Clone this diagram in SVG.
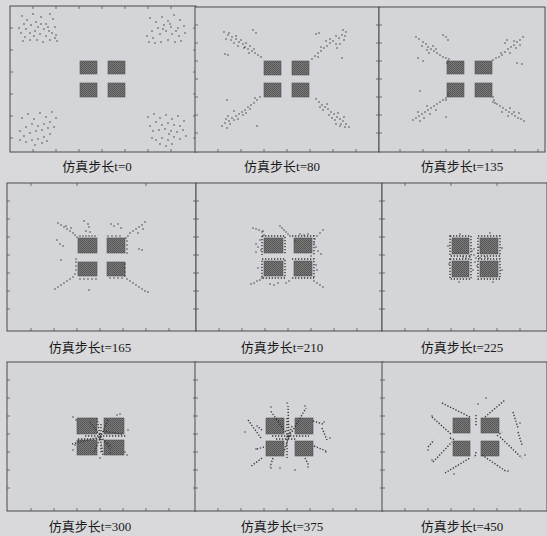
<svg xmlns="http://www.w3.org/2000/svg" width="547" height="536" viewBox="0 0 547 536">
<defs>
<pattern id="chk" width="2" height="2" patternUnits="userSpaceOnUse">
<rect width="2" height="2" fill="#7a7a7a"/>
<rect width="1" height="1" fill="#525252"/>
<rect x="1" y="1" width="1" height="1" fill="#5c5c5c"/>
</pattern>
</defs>
<style>
.frame{fill:#d4d5d9;stroke:#4a4a4a;stroke-width:1}
.sq{fill:url(#chk);stroke:#555;stroke-width:0.6}
.dots{fill:none;stroke:#3a3a3a;stroke-width:1.5;stroke-linecap:round}
.dl{fill:none;stroke:#3a3a3a;stroke-width:1.4;stroke-dasharray:1.3 1.7}
.tick{fill:none;stroke:#555;stroke-width:0.8}
.cap{font-family:"Liberation Serif","Noto Sans CJK SC",serif;font-size:13px;fill:#1a1a1a;text-anchor:middle}
</style>
<rect width="547" height="536" fill="#d9d9dc"/>

<g id="panel-t0">
<rect class="frame" x="10" y="6" width="186" height="146"/>
<path class="tick" d="M10 28h3M10 50h3M10 72h3M10 94h3M10 116h3M10 138h3M196 28h-3M196 50h-3M196 72h-3M196 94h-3M196 116h-3M196 138h-3M33 152v-3M56 152v-3M79 152v-3M102 152v-3M125 152v-3M148 152v-3M171 152v-3M33 6v3M56 6v3M79 6v3M102 6v3M125 6v3M148 6v3M171 6v3"/>
<rect class="sq" x="80" y="61" width="17" height="13"/>
<rect class="sq" x="108" y="61" width="17" height="13"/>
<rect class="sq" x="80" y="83" width="17" height="14"/>
<rect class="sq" x="108" y="83" width="17" height="14"/>
<path class="dots" d="M22 16h0M27 20h0M33 14h0M36 22h0M41 17h0M46 24h0M50 14h0M53 19h0M55 27h0M49 31h0M44 29h0M38 27h0M31 25h0M26 29h0M21 33h0M25 37h0M30 33h0M35 31h0M40 34h0M46 36h0M52 33h0M55 38h0M57 41h0M50 40h0M43 42h0M37 40h0M30 40h0M23 41h0M19 28h0M34 36h0M48 27h0M56 35h0M24 24h0M41 24h0
M150 18h0M156 22h0M162 17h0M168 21h0M174 15h0M180 20h0M184 26h0M178 28h0M171 27h0M164 25h0M158 28h0M152 31h0M147 36h0M153 38h0M160 34h0M166 31h0M172 34h0M179 36h0M185 33h0M181 41h0M175 42h0M168 40h0M161 42h0M155 43h0M149 42h0M163 29h0M170 24h0M176 31h0
M22 118h0M28 114h0M34 119h0M40 113h0M46 117h0M52 112h0M56 118h0M50 122h0M44 124h0M38 126h0M32 124h0M26 127h0M20 131h0M24 136h0M30 133h0M36 131h0M42 130h0M48 128h0M54 127h0M50 134h0M44 137h0M38 139h0M32 140h0M26 142h0M20 140h0M35 145h0M42 143h0M47 141h0
M148 117h0M154 114h0M160 118h0M166 115h0M172 119h0M178 116h0M184 121h0M180 126h0M174 125h0M168 123h0M162 125h0M156 122h0M150 126h0M153 131h0M159 130h0M165 129h0M171 131h0M177 132h0M183 130h0M186 136h0M180 139h0M174 137h0M168 140h0M162 138h0M156 140h0M160 144h0M166 146h0M172 144h0M152 138h0M169 134h0"/>
<text class="cap" x="97" y="171">仿真步长t=0</text>
</g>

<g id="panel-t80">
<rect class="frame" x="195" y="7" width="184" height="145"/>
<path class="tick" d="M195 25h3M195 43h3M195 61h3M195 79h3M195 97h3M195 115h3M195 133h3M379 25h-3M379 43h-3M379 61h-3M379 79h-3M379 97h-3M379 115h-3M379 133h-3M218 152v-3M241 152v-3M264 152v-3M287 152v-3M310 152v-3M333 152v-3M356 152v-3"/>
<rect class="sq" x="264" y="61" width="17" height="14"/>
<rect class="sq" x="292" y="61" width="17" height="14"/>
<rect class="sq" x="264" y="83" width="17" height="14"/>
<rect class="sq" x="292" y="83" width="17" height="14"/>
<path class="dots" d="M224 32h0M228 35h0M232 37h0M231 40h0M236 39h0M239 42h0M243 44h0M238 46h0M245 47h0M248 49h0M252 51h0M255 53h0M258 55h0M261 57h0M250 46h0M241 40h0M234 43h0M226 39h0M229 33h0M236 36h0M246 43h0M254 49h0M225 54h0M228 55h0M253 30h0M256 33h0M244 48h0M249 53h0
M346 32h0M342 35h0M339 38h0M336 36h0M333 41h0M330 43h0M327 46h0M324 48h0M321 51h0M318 53h0M315 56h0M312 59h0M344 40h0M340 44h0M336 44h0M330 39h0M326 41h0M321 47h0M345 36h0M318 57h0M337 48h0M343 30h0M316 34h0M319 33h0M342 58h0
M222 126h0M225 123h0M229 121h0M232 118h0M236 116h0M239 114h0M242 112h0M245 110h0M248 107h0M251 105h0M254 103h0M257 100h0M260 97h0M226 119h0M230 124h0M234 120h0M238 119h0M243 115h0M246 113h0M250 109h0M228 116h0M234 111h0M227 128h0M255 98h0M257 126h0M227 100h0
M316 99h0M319 102h0M322 105h0M325 107h0M328 109h0M331 112h0M334 114h0M337 117h0M340 119h0M343 121h0M346 124h0M349 127h0M323 110h0M329 115h0M335 120h0M341 124h0M338 113h0M344 117h0M327 104h0M332 118h0M336 124h0M345 127h0M320 107h0M340 126h0"/>
<text class="cap" x="282" y="171">仿真步长t=80</text>
</g>

<g id="panel-t135">
<rect class="frame" x="379" y="7" width="166" height="145"/>
<path class="tick" d="M379 25h3M379 43h3M379 61h3M379 79h3M379 97h3M379 115h3M379 133h3M400 152v-3M423 152v-3M446 152v-3M469 152v-3M492 152v-3M515 152v-3M538 152v-3"/>
<rect class="sq" x="447" y="61" width="17" height="13"/>
<rect class="sq" x="475" y="61" width="17" height="13"/>
<rect class="sq" x="447" y="83" width="17" height="14"/>
<rect class="sq" x="475" y="83" width="17" height="14"/>
<path class="dots" d="M416 37h0M419 39h0M423 42h0M426 44h0M428 47h0M431 49h0M434 51h0M437 53h0M440 55h0M443 57h0M446 58h0M449 59h0M422 46h0M427 50h0M433 46h0M418 58h0M423 61h0M443 35h0M446 37h0M448 40h0M429 53h0M436 49h0M448 61h0M447 63h0
M523 37h0M520 40h0M517 42h0M514 45h0M511 47h0M508 49h0M505 52h0M502 55h0M499 57h0M496 58h0M493 60h0M516 48h0M510 53h0M520 45h0M514 41h0M505 43h0M507 40h0M517 63h0M522 64h0M501 53h0
M413 120h0M416 118h0M419 116h0M422 114h0M425 112h0M428 110h0M431 108h0M434 106h0M437 104h0M440 102h0M443 100h0M446 98h0M448 96h0M418 112h0M424 118h0M430 114h0M436 110h0M420 121h0M427 106h0M420 91h0M446 117h0M448 94h0M446 100h0
M493 97h0M494 100h0M495 103h0M497 104h0M500 106h0M503 108h0M506 110h0M509 112h0M512 114h0M515 116h0M518 118h0M521 119h0M524 121h0M502 112h0M508 116h0M514 112h0M519 113h0M510 108h0M493 102h0"/>
<text class="cap" x="462" y="171">仿真步长t=135</text>
</g>

<g id="panel-t165">
<rect class="frame" x="7" y="183" width="189" height="148"/>
<path class="tick" d="M7 201h3M7 219h3M7 237h3M7 255h3M7 273h3M7 291h3M7 309h3M196 201h-3M196 219h-3M196 237h-3M196 255h-3M196 273h-3M196 291h-3M196 309h-3M31 331v-3M54 331v-3M77 331v-3M100 331v-3M123 331v-3M146 331v-3M169 331v-3M31 183v3M77 183v3M146 183v3"/>
<rect class="sq" x="78" y="238" width="19" height="15"/>
<rect class="sq" x="107" y="238" width="18" height="15"/>
<rect class="sq" x="78" y="262" width="19" height="14"/>
<rect class="sq" x="107" y="262" width="18" height="14"/>
<path class="dots" d="M58 223h0M61 225h0M64 227h0M67 229h0M70 231h0M73 233h0M75 235h0M77 237h0M66 226h0M71 228h0M84 221h0M88 224h0M89 227h0M57 240h0M60 244h0M63 246h0M86 231h0M90 232h0M95 236h0M80 236h0M83 236h0M86 236h0M89 236h0M92 236h0
M145 222h0M142 225h0M139 227h0M136 229h0M133 231h0M130 233h0M128 236h0M126 238h0M143 229h0M138 233h0M111 224h0M114 226h0M118 224h0M121 228h0M108 236h0M112 236h0M116 236h0M120 236h0M127 241h0M127 245h0M127 249h0M127 253h0M142 250h0M139 249h0
M55 289h0M58 287h0M61 285h0M64 283h0M67 281h0M70 279h0M73 277h0M75 274h0M76 270h0M76 266h0M76 262h0M76 259h0M61 260h0M89 290h0M80 279h0M84 279h0M88 279h0M92 279h0M96 279h0
M145 291h0M142 289h0M139 287h0M136 285h0M133 283h0M130 281h0M127 279h0M125 276h0M125 272h0M125 268h0M125 264h0M110 278h0M114 278h0M118 278h0M122 278h0M148 292h0"/>
<text class="cap" x="90" y="352">仿真步长t=165</text>
</g>

<g id="panel-t210">
<rect class="frame" x="196" y="183" width="186" height="148"/>
<path class="tick" d="M196 201h3M196 219h3M196 237h3M196 255h3M196 273h3M196 291h3M196 309h3M382 201h-3M382 219h-3M382 237h-3M382 255h-3M382 273h-3M382 291h-3M382 309h-3M219 331v-3M242 331v-3M265 331v-3M288 331v-3M311 331v-3M334 331v-3M357 331v-3"/>
<rect class="sq" x="264" y="238" width="19" height="15"/>
<rect class="sq" x="294" y="238" width="18" height="15"/>
<rect class="sq" x="264" y="261" width="19" height="15"/>
<rect class="sq" x="294" y="261" width="18" height="15"/>
<path class="dl" d="M262 236H285V255M262 236V255M292 236H314V255M262 259H285V278H262ZM292 259H314V278M292 278H314"/>
<path class="dots" d="M253 228h0M256 229h0M259 230h0M262 232h0M264 235h0M263 231h0M280 226h0M282 228h0M284 230h0M286 232h0M288 234h0M290 236h0M256 244h0M258 247h0M261 250h0M256 252h0M260 240h0
M323 230h0M320 233h0M317 236h0M315 239h0M314 243h0M316 247h0M318 251h0M321 254h0M311 256h0M300 234h0M304 235h0M308 234h0M295 241h0
M251 284h0M254 283h0M257 281h0M260 280h0M262 278h0M258 268h0M270 284h0M274 285h0M278 283h0M286 283h0
M323 287h0M320 285h0M317 283h0M314 281h0M289 281h0M316 265h0M317 270h0"/>
<text class="cap" x="282" y="352">仿真步长t=210</text>
</g>

<g id="panel-t225">
<rect class="frame" x="382" y="183" width="165" height="148"/>
<path class="tick" d="M382 201h3M382 219h3M382 237h3M382 255h3M382 273h3M382 291h3M382 309h3M405 331v-3M428 331v-3M451 331v-3M474 331v-3M497 331v-3M520 331v-3M405 183v3M451 183v3M497 183v3"/>
<rect class="sq" x="452" y="238" width="17" height="16"/>
<rect class="sq" x="480" y="238" width="18" height="16"/>
<rect class="sq" x="452" y="261" width="17" height="16"/>
<rect class="sq" x="480" y="261" width="18" height="16"/>
<path class="dl" d="M450 236H471V256H450ZM478 236H500V256H478ZM450 259H471V279H450ZM478 259H500V279H478Z"/>
<path class="dots" d="M448 246h0M449 264h0M502 248h0M502 270h0M470 257h0M474 255h0M478 253h0M476 258h0M472 251h0M480 258h0M466 258h0M485 257h0M475 262h0M477 266h0M473 270h0M474 249h0M479 247h0M463 257h0M488 258h0M460 234h0M490 233h0M459 282h0M493 282h0"/>
<text class="cap" x="462" y="352">仿真步长t=225</text>
</g>

<g id="panel-t300">
<rect class="frame" x="7" y="362" width="189" height="149"/>
<path class="tick" d="M7 380h3M7 398h3M7 416h3M7 434h3M7 452h3M7 470h3M7 488h3M196 380h-3M196 398h-3M196 416h-3M196 434h-3M196 452h-3M196 470h-3M196 488h-3M31 511v-3M54 511v-3M77 511v-3M100 511v-3M123 511v-3M146 511v-3M169 511v-3"/>
<rect class="sq" x="77" y="418" width="20" height="16"/>
<rect class="sq" x="104" y="418" width="20" height="16"/>
<rect class="sq" x="77" y="440" width="20" height="15"/>
<rect class="sq" x="104" y="440" width="20" height="15"/>
<path class="dl" d="M85 436H127M78 439H100M97 418L103 455M90 422L111 450M108 420L94 452M103 431L122 434M72 444L100 437M100 437L112 447M101 424V454"/>
<path class="dots" d="M73 417h0M76 420h0M120 414h0M117 415h0M75 445h0M73 450h0M127 455h0M125 452h0M110 453h0M100 458h0M128 430h0"/>
<text class="cap" x="90" y="531">仿真步长t=300</text>
</g>

<g id="panel-t375">
<rect class="frame" x="195" y="362" width="188" height="149"/>
<path class="tick" d="M195 380h3M195 398h3M195 416h3M195 434h3M195 452h3M195 470h3M195 488h3M383 380h-3M383 398h-3M383 416h-3M383 434h-3M383 452h-3M383 470h-3M383 488h-3M218 511v-3M241 511v-3M264 511v-3M287 511v-3M310 511v-3M333 511v-3M356 511v-3"/>
<rect class="sq" x="266" y="418" width="18" height="16"/>
<rect class="sq" x="295" y="418" width="18" height="16"/>
<rect class="sq" x="266" y="441" width="18" height="15"/>
<rect class="sq" x="295" y="441" width="18" height="15"/>
<path class="dl" d="M289 437L270 410M289 437L288 406M289 437L306 408M313 421L323 424M314 446L326 451M305 458L309 466M273 458L270 467M264 447L257 449M262 430L258 427M272 436H309M276 439H297M287 418V458M292 426L284 452M322 428L327 440M248 420L261 438M262 458L250 467"/>
<path class="dots" d="M271 407h0M287 403h0M305 406h0M324 422h0M326 452h0M308 467h0M271 468h0M256 449h0M257 426h0M245 432h0M330 438h0M280 468h0M295 470h0"/>
<text class="cap" x="282" y="531">仿真步长t=375</text>
</g>

<g id="panel-t450">
<rect class="frame" x="382" y="362" width="165" height="149"/>
<path class="tick" d="M382 380h3M382 398h3M382 416h3M382 434h3M382 452h3M382 470h3M382 488h3M405 511v-3M428 511v-3M451 511v-3M474 511v-3M497 511v-3M520 511v-3"/>
<rect class="sq" x="453" y="418" width="17" height="15"/>
<rect class="sq" x="481" y="418" width="18" height="15"/>
<rect class="sq" x="453" y="441" width="17" height="15"/>
<rect class="sq" x="481" y="441" width="18" height="15"/>
<path class="dl" d="M442 403L470 417M485 417L505 400M432 417L452 435M433 462L452 442M445 473L470 458M482 455L507 472M500 437L522 458M513 412L518 428M518 432L522 445M476 415V427M476 452L475 458M428 447L434 440M450 438L455 440M497 436L502 432"/>
<path class="dots" d="M486 398h0M432 416h0M428 450h0M432 460h0M454 474h0M520 423h0M478 404h0M508 471h0M525 455h0"/>
<text class="cap" x="462" y="531">仿真步长t=450</text>
</g>
</svg>
